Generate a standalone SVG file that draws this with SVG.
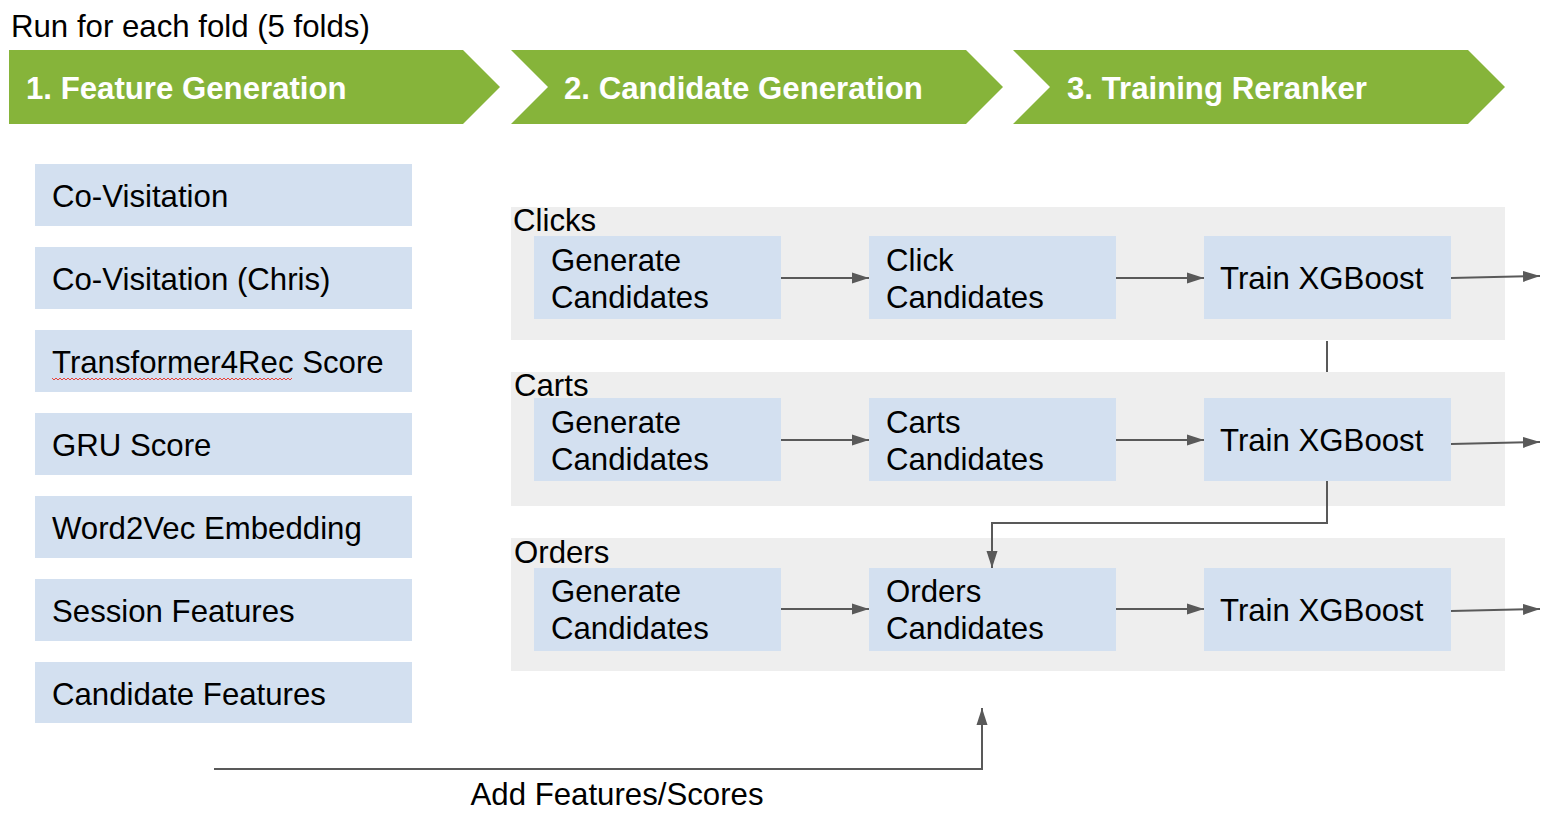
<svg xmlns="http://www.w3.org/2000/svg" width="1556" height="824" viewBox="0 0 1556 824">
<defs>
<marker id="ah2" markerWidth="18" markerHeight="12" refX="17" refY="6" orient="auto" markerUnits="userSpaceOnUse">
<path d="M0,0.5 L17,6 L0,11.5 z" fill="#595959"/>
</marker>
<style>
text{font-family:"Liberation Sans",Arial,sans-serif;fill:#000}
.t{font-size:31.2px}
.h{font-size:31.2px;font-weight:bold;fill:#fff}
.chev{fill:#86b43a}
.fb{fill:#d3e0f0}
.pan{fill:#eeeeee}
.c{fill:none;stroke:#595959;stroke-width:2}
</style>
</defs>
<rect width="1556" height="824" fill="#fff"/>
<text class="t" x="11" y="37">Run for each fold (5 folds)</text>

<g id="step1"><path class="chev" d="M9,50 L463,50 L500,87 L463,124 L9,124 z"/><text class="h" x="26" y="99">1. Feature Generation</text></g>
<g id="step2"><path class="chev" d="M511,50 L966,50 L1003,87 L966,124 L511,124 L548,87 z"/><text class="h" x="564" y="99">2. Candidate Generation</text></g>
<g id="step3"><path class="chev" d="M1013,50 L1468,50 L1505,87 L1468,124 L1013,124 L1050,87 z"/><text class="h" x="1067" y="99">3. Training Reranker</text></g>

<g id="f1"><rect class="fb" x="35" y="164" width="377" height="62"/><text class="t" x="52" y="207">Co-Visitation</text></g>
<g id="f2"><rect class="fb" x="35" y="247" width="377" height="62"/><text class="t" x="52" y="290">Co-Visitation (Chris)</text></g>
<g id="f3"><rect class="fb" x="35" y="330" width="377" height="62"/><text class="t" x="52" y="373">Transformer4Rec Score</text>
<path d="M52,378 l2,2l2,-2l2,2l2,-2l2,2l2,-2l2,2l2,-2l2,2l2,-2 l2,2l2,-2l2,2l2,-2l2,2l2,-2l2,2l2,-2l2,2l2,-2 l2,2l2,-2l2,2l2,-2l2,2l2,-2l2,2l2,-2l2,2l2,-2 l2,2l2,-2l2,2l2,-2l2,2l2,-2l2,2l2,-2l2,2l2,-2 l2,2l2,-2l2,2l2,-2l2,2l2,-2l2,2l2,-2l2,2l2,-2 l2,2l2,-2l2,2l2,-2l2,2l2,-2l2,2l2,-2l2,2l2,-2 l2,2l2,-2l2,2l2,-2l2,2l2,-2l2,2l2,-2l2,2l2,-2 l2,2l2,-2l2,2l2,-2l2,2l2,-2l2,2l2,-2l2,2l2,-2 l2,2l2,-2l2,2l2,-2l2,2l2,-2l2,2l2,-2l2,2l2,-2 l2,2l2,-2l2,2l2,-2l2,2l2,-2l2,2l2,-2l2,2l2,-2 l2,2l2,-2l2,2l2,-2l2,2l2,-2l2,2l2,-2l2,2l2,-2 l2,2l2,-2l2,2l2,-2l2,2l2,-2l2,2l2,-2l2,2l2,-2" fill="none" stroke="#e8413a" stroke-width="1"/></g>
<g id="f4"><rect class="fb" x="35" y="413" width="377" height="62"/><text class="t" x="52" y="456">GRU Score</text></g>
<g id="f5"><rect class="fb" x="35" y="496" width="377" height="62"/><text class="t" x="52" y="539">Word2Vec Embedding</text></g>
<g id="f6"><rect class="fb" x="35" y="579" width="377" height="62"/><text class="t" x="52" y="622">Session Features</text></g>
<g id="f7"><rect class="fb" x="35" y="662" width="377" height="61"/><text class="t" x="52" y="705">Candidate Features</text></g>

<g id="clicks"><rect class="pan" x="511" y="207" width="994" height="133"/><text class="t" x="513" y="231">Clicks</text></g>
<g id="carts"><rect class="pan" x="511" y="372" width="994" height="134"/><text class="t" x="514" y="396">Carts</text></g>
<g id="orders"><rect class="pan" x="511" y="538" width="994" height="133"/><text class="t" x="514" y="563">Orders</text></g>

<g id="gen1"><rect class="fb" x="534" y="236" width="247" height="83"/><text class="t" x="551" y="271">Generate</text><text class="t" x="551" y="308">Candidates</text></g>
<g id="cand1"><rect class="fb" x="869" y="236" width="247" height="83"/><text class="t" x="886" y="271">Click</text><text class="t" x="886" y="308">Candidates</text></g>
<g id="xgb1"><rect class="fb" x="1204" y="236" width="247" height="83"/><text class="t" x="1220" y="289">Train XGBoost</text></g>

<g id="gen2"><rect class="fb" x="534" y="398" width="247" height="83"/><text class="t" x="551" y="433">Generate</text><text class="t" x="551" y="470">Candidates</text></g>
<g id="cand2"><rect class="fb" x="869" y="398" width="247" height="83"/><text class="t" x="886" y="433">Carts</text><text class="t" x="886" y="470">Candidates</text></g>
<g id="xgb2"><rect class="fb" x="1204" y="398" width="247" height="83"/><text class="t" x="1220" y="451">Train XGBoost</text></g>

<g id="gen3"><rect class="fb" x="534" y="568" width="247" height="83"/><text class="t" x="551" y="602">Generate</text><text class="t" x="551" y="639">Candidates</text></g>
<g id="cand3"><rect class="fb" x="869" y="568" width="247" height="83"/><text class="t" x="886" y="602">Orders</text><text class="t" x="886" y="639">Candidates</text></g>
<g id="xgb3"><rect class="fb" x="1204" y="568" width="247" height="83"/><text class="t" x="1220" y="621">Train XGBoost</text></g>

<g id="connectors">
<path class="c" d="M781,278 L869,278" marker-end="url(#ah2)"/>
<path class="c" d="M1116,278 L1204,278" marker-end="url(#ah2)"/>
<path class="c" d="M1451,278 L1540,276" marker-end="url(#ah2)"/>
<path class="c" d="M781,440 L869,440" marker-end="url(#ah2)"/>
<path class="c" d="M1116,440 L1204,440" marker-end="url(#ah2)"/>
<path class="c" d="M1451,444 L1540,442" marker-end="url(#ah2)"/>
<path class="c" d="M781,609 L869,609" marker-end="url(#ah2)"/>
<path class="c" d="M1116,609 L1204,609" marker-end="url(#ah2)"/>
<path class="c" d="M1451,611 L1540,609" marker-end="url(#ah2)"/>
<path class="c" d="M1327,341 L1327,372"/>
<path class="c" d="M1327,481 L1327,523 L992,523 L992,568" marker-end="url(#ah2)"/>
<path class="c" d="M214,769 L982,769 L982,708" marker-end="url(#ah2)"/>
</g>
<text class="t" x="617" y="805" text-anchor="middle">Add Features/Scores</text>
</svg>
